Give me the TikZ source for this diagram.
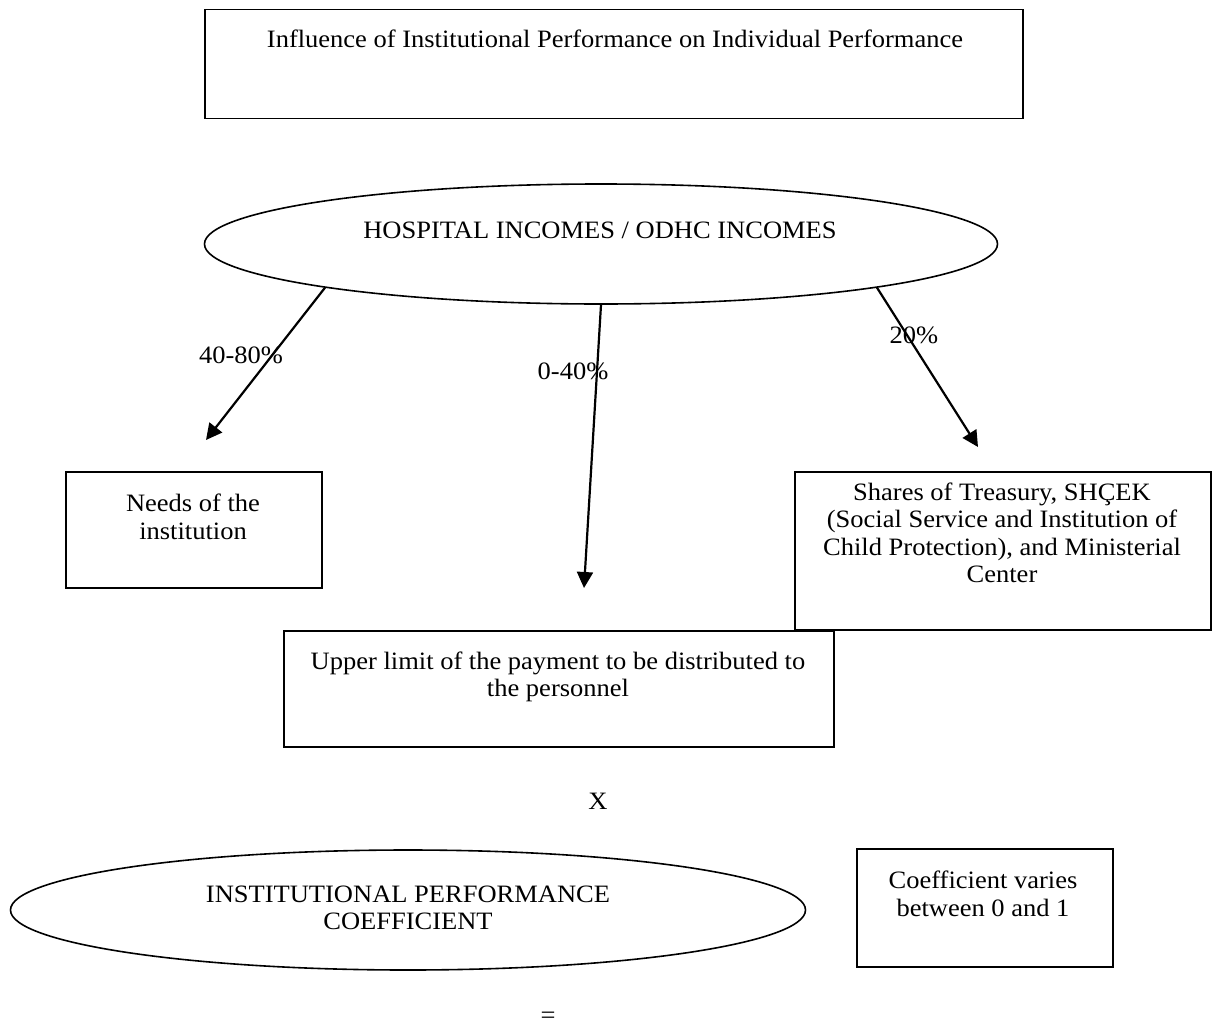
\documentclass[tikz,border=0pt]{standalone}
\usepackage{fontspec}
\setmainfont{Liberation Serif}[FakeStretch=1.06]
\usetikzlibrary{shapes.geometric,arrows.meta}
\begin{document}
\begin{tikzpicture}[x=1pt,y=-1pt,
  every node/.style={font=\fontsize{25}{27.5}\selectfont},
  frame/.style={draw,line width=1.6pt,rectangle,inner sep=0pt},
  oval/.style={draw,line width=1.6pt,ellipse,inner sep=0pt},
  txt/.style={align=center,inner sep=0pt},
  flow/.style={line width=2.2pt,-{Triangle[length=16pt,width=16pt]}}]
\useasboundingbox (0,0) rectangle (1213,1028);

% boxes and ovals
\node[frame,minimum width=818,minimum height=109] (title) at (614,64) {};
\node[txt] (titletext) at (615,39) {Influence of Institutional Performance on Individual Performance};

\node[oval,minimum width=793,minimum height=120] (inc) at (601,244) {};
\node[txt] (inctext) at (600,230) {HOSPITAL INCOMES / ODHC INCOMES};

\node[frame,minimum width=256,minimum height=116] (needs) at (194,530) {};
\node[txt] (needstext) at (193,517) {Needs of the\\institution};

\node[frame,minimum width=416,minimum height=158] (shares) at (1003,551) {};
\node[txt] (sharestext) at (1002,533) {Shares of Treasury, SHÇEK\\(Social Service and Institution of\\Child Protection), and Ministerial\\Center};

\node[frame,minimum width=550,minimum height=116] (upper) at (559,689) {};
\node[txt] (uppertext) at (558,677) {Upper limit of the payment to be distributed to\\the personnel};

\node[txt] (times) at (598,801) {X};

\node[oval,minimum width=795,minimum height=120] (ipc) at (408,910) {};
\node[txt] (ipctext) at (408,908) {INSTITUTIONAL PERFORMANCE\\COEFFICIENT};

\node[frame,minimum width=256,minimum height=118] (coef) at (985,908) {};
\node[txt] (coeftext) at (983,894) {Coefficient varies\\between 0 and 1};

\node[txt] (equals) at (548,1018) {=};

% arrow ends
\coordinate (endneeds) at (206,440);
\coordinate (endupper) at (584,588);
\coordinate (endshares) at (978,447);

% arrows
\draw[flow] (inc.189.3) -- (endneeds);
\draw[flow] (inc.270.2) -- (endupper);
\draw[flow] (inc.351) -- (endshares);

% shares
\node[txt] (pneeds) at (241,355) {40-80\%};
\node[txt] (pupper) at (573,371) {0-40\%};
\node[txt] (pshares) at (914,335) {20\%};
\end{tikzpicture}
\end{document}
